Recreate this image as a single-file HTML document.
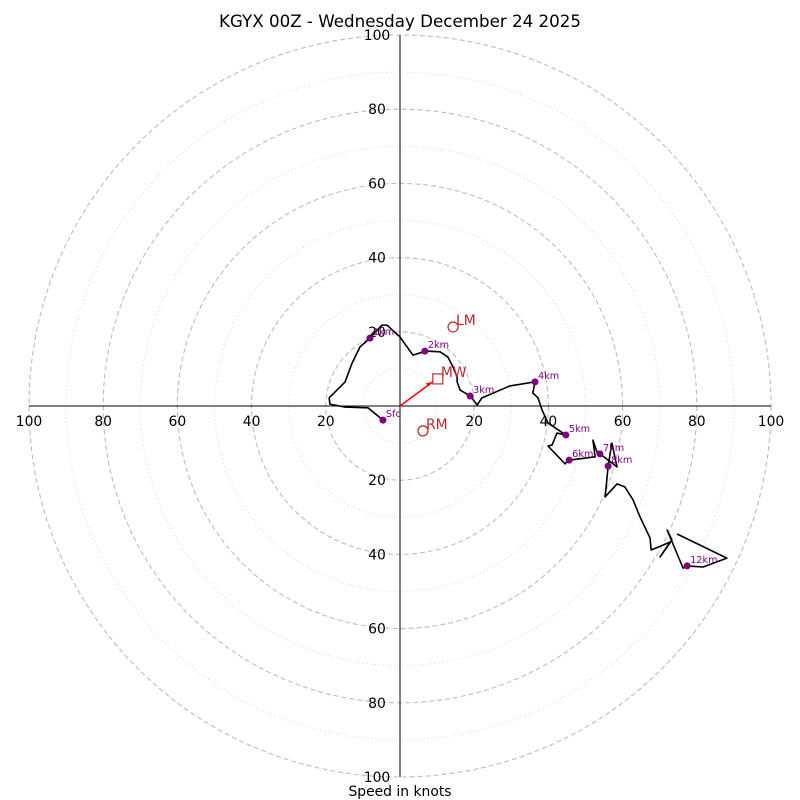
<!DOCTYPE html>
<html><head><meta charset="utf-8"><style>
body{margin:0;background:#fff;}
svg{display:block;font-family:"DejaVu Sans","Liberation Sans",sans-serif;}
</style></head><body>
<svg id="chart" width="800" height="800" viewBox="0 0 800 800">
<text x="400" y="27" font-size="16.7" text-anchor="middle">KGYX 00Z - Wednesday December 24 2025</text>
<text x="400" y="796" font-size="13.9" text-anchor="middle">Speed in knots</text>
<g id="rings"></g><g id="axes"></g><g id="trace"></g><g id="storm"></g>
</svg>
<script>
const ringValues=[10,20,30,40,50,60,70,80,90,100];
const tickLabels=[20,40,60,80,100];
const uWind=[-4.6,-8.6,-14.8,-18.9,-19.1,-14.8,-12.9,-10.8,-8.1,-4.9,-3.5,0,3.5,5.4,6.7,10.8,12.9,14.3,15.4,15.4,16.2,18.9,20.8,22.1,29.6,36.4,35.8,37.2,38.3,39.9,44.7,42.3,41.0,39.9,44.5,45.8,45.6,52.6,52.0,53.4,53.9,58.5,57.1,56.1,55.3,58.5,60.6,62.8,64.7,67.4,67.7,72.8,70.1,73.3,72.0,76.3,77.4,81.7,88.1,74.7];
const vWind=[-3.8,-0.5,-0.3,0.5,2.2,6.5,11.6,15.9,18.3,21.8,21.8,18.6,13.7,14.3,14.8,14.6,13.2,10.5,7.8,6.5,4.3,2.7,0.3,2.2,5.4,6.5,3.5,2.2,-1.1,-4.6,-7.8,-7.3,-10.5,-10.8,-15.6,-14.0,-14.6,-13.7,-9.2,-13.2,-12.9,-16.4,-10.0,-16.2,-24.5,-21.0,-21.8,-25.3,-29.9,-35.6,-38.8,-36.7,-40.7,-36.1,-33.4,-43.7,-43.1,-43.4,-41.0,-34.5];
const markerIdx=[0,8,14,21,25,30,36,40,43,56];
const markerLabels=["Sfc","1km","2km","3km","4km","5km","6km","7km","8km","12km"];
const lmMotion=[14.3,21.3], rmMotion=[6.2,-6.7], mwMotion=[10.2,7.3], arrowTip=[8.8,6.5];
const CX=400,CY=406,S=3.71;
const X=u=>CX+u*S, Y=v=>CY-v*S;
const NS="http://www.w3.org/2000/svg";
function mk(tag,attrs,parent,text){const e=document.createElementNS(NS,tag);for(const k in attrs)e.setAttribute(k,attrs[k]);if(text!==undefined)e.textContent=text;parent.appendChild(e);return e;}
const rings=document.getElementById('rings');
ringValues.forEach(r=>{const major=r%20===0;
 const c=mk('circle',{cx:CX,cy:CY,r:r*S,fill:'none',stroke:major?'#bdbdbd':'#d3d3d3','stroke-width':major?1.1:1,'stroke-dasharray':major?'5,3':'1,3'},rings);
 
 });
const axes=document.getElementById('axes');
let l=mk('line',{x1:X(-100),y1:CY,x2:X(100),y2:CY,stroke:'#000','stroke-width':1},axes);


l=mk('line',{x1:CX,y1:Y(100),x2:CX,y2:Y(-100),stroke:'#000','stroke-width':1},axes);


tickLabels.forEach(t=>{[-1,1].forEach(sg=>{
 let tx=mk('text',{x:X(sg*t),y:CY+20,'font-size':13.9,'text-anchor':'middle'},axes,String(t));
 
 
 tx=mk('text',{x:CX-23,y:Y(sg*t)+5,'font-size':13.9,'text-anchor':'middle'},axes,String(t));
 
 });});
const trace=document.getElementById('trace');
const pl=mk('polyline',{points:uWind.map((u,i)=>X(u)+','+Y(vWind[i])).join(' '),fill:'none',stroke:'#000','stroke-width':1.6,'stroke-linejoin':'round'},trace);


markerIdx.forEach((idx,k)=>{const x=X(uWind[idx]),y=Y(vWind[idx]);
 const d=mk('circle',{cx:x,cy:y,r:3.5,fill:'#800080'},trace);
 
 
 const t=mk('text',{x:x+3,y:y-3,'font-size':9.7,fill:'#800080'},trace,markerLabels[k]);
 
 });
const storm=document.getElementById('storm');
const red='#c0282d';
let a=mk('line',{x1:CX,y1:CY,x2:X(arrowTip[0]),y2:Y(arrowTip[1]),stroke:'red','stroke-width':1.5},storm);


a=mk('path',{d:`M${X(arrowTip[0])} ${Y(arrowTip[1])} l-7 1.5 l3 3 z`,fill:'red'},storm);


let s=mk('circle',{cx:X(lmMotion[0]),cy:Y(lmMotion[1]),r:5,fill:'none',stroke:red,'stroke-width':1.2},storm);


s=mk('text',{x:X(lmMotion[0])+3,y:Y(lmMotion[1])-2,'font-size':13.9,fill:red},storm,'LM');


s=mk('circle',{cx:X(rmMotion[0]),cy:Y(rmMotion[1]),r:5,fill:'none',stroke:red,'stroke-width':1.2},storm);


s=mk('text',{x:X(rmMotion[0])+3,y:Y(rmMotion[1])-2,'font-size':13.9,fill:red},storm,'RM');


s=mk('rect',{x:X(mwMotion[0])-5,y:Y(mwMotion[1])-5,width:10,height:10,fill:'none',stroke:red,'stroke-width':1.2},storm);


s=mk('text',{x:X(mwMotion[0])+3,y:Y(mwMotion[1])-2,'font-size':13.9,fill:red},storm,'MW');


</script>
</body></html>
